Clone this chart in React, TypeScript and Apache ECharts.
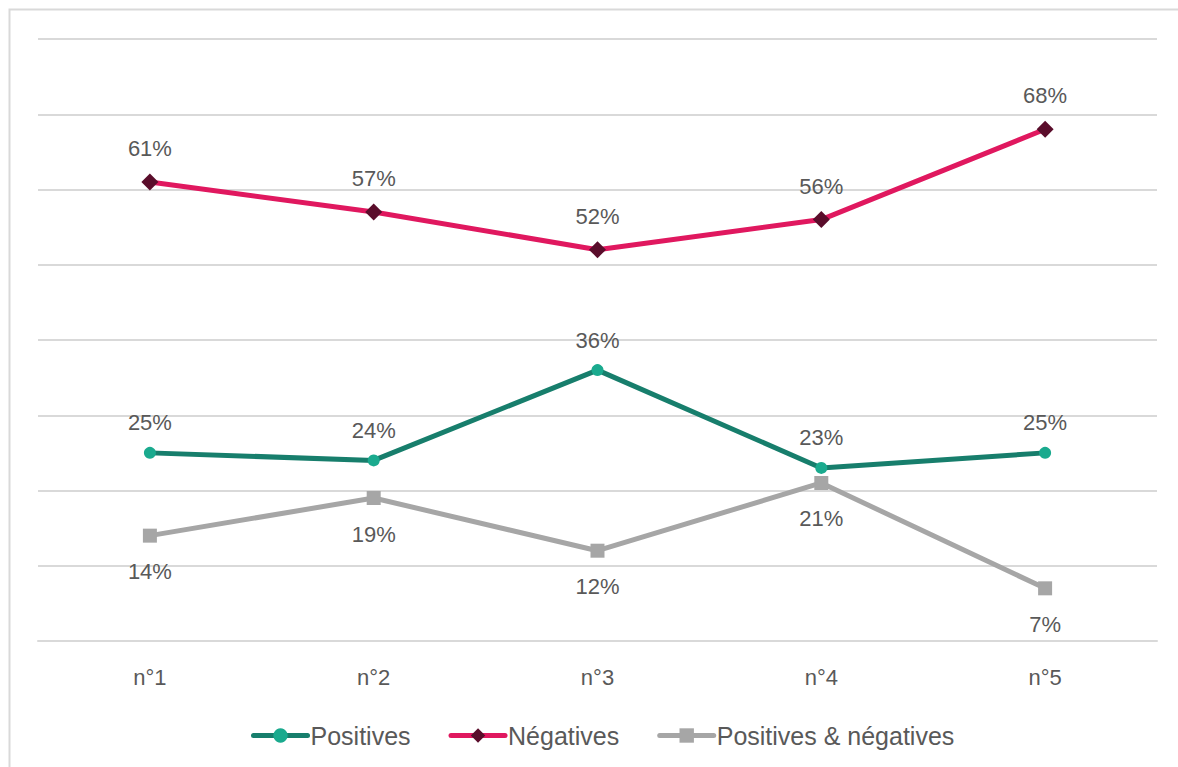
import React, { useEffect, useRef } from "react";
import * as echarts from "echarts";

const categories = ["n°1", "n°2", "n°3", "n°4", "n°5"];
const positives = [25, 24, 36, 23, 25];
const negatives = [61, 57, 52, 56, 68];
const mixed = [14, 19, 12, 21, 7];
const seriesNames = ["Positives", "Négatives", "Positives & négatives"];

const FONT = "'Liberation Sans', Arial, sans-serif";
const TEXT = "#595959";

export default function App() {
  const ref = useRef<HTMLDivElement>(null);
  useEffect(() => {
    if (!ref.current) return;
    const chart = echarts.init(ref.current, null, { renderer: "svg" });
    const label = (pos: string, dist: number) => ({
      show: true,
      position: pos,
      distance: dist,
      formatter: "{c}%",
      fontSize: 22,
      color: TEXT,
      fontFamily: FONT,
    });
    chart.setOption({
      animation: false,
      backgroundColor: "#ffffff",
      textStyle: { fontFamily: FONT },
      graphic: [
        {
          type: "rect",
          shape: { x: 9.5, y: 9.5, width: 1300, height: 900 },
          style: { fill: "none", stroke: "#d9d9d9", lineWidth: 2 },
          silent: true,
        },
      ],
      grid: { left: 38, right: 21, top: 39, bottom: 126 },
      legend: {
        left: 246,
        top: 718,
        itemWidth: 54,
        itemHeight: 18,
        itemGap: 38,
        lineStyle: { width: 5, cap: "round" },
        textStyle: { fontSize: 25, color: TEXT, fontFamily: FONT, padding: [0, 0, 0, -2] },
        data: seriesNames,
      },
      xAxis: {
        type: "category",
        data: categories,
        boundaryGap: true,
        axisLine: { show: true, lineStyle: { color: "#d9d9d9", width: 2 } },
        axisTick: { show: false },
        axisLabel: { fontSize: 22, color: TEXT, fontFamily: FONT, margin: 25 },
      },
      yAxis: {
        type: "value",
        min: 0,
        max: 80,
        interval: 10,
        axisLabel: { show: false },
        axisLine: { show: false },
        axisTick: { show: false },
        splitLine: { lineStyle: { color: "#d9d9d9", width: 2 } },
      },
      series: [
        {
          name: seriesNames[0],
          type: "line",
          data: positives,
          symbol: "circle",
          symbolSize: 12,
          lineStyle: { color: "#177e6c", width: 5 },
          itemStyle: { color: "#1aaa8e" },
          label: label("top", 13),
          z: 3,
        },
        {
          name: seriesNames[1],
          type: "line",
          data: negatives,
          symbol: "diamond",
          symbolSize: [17, 17],
          lineStyle: { color: "#e0185f", width: 5 },
          itemStyle: { color: "#5a0d2b" },
          label: label("top", 14),
          z: 4,
        },
        {
          name: seriesNames[2],
          type: "line",
          data: mixed,
          symbol: "rect",
          symbolSize: 14,
          lineStyle: { color: "#a6a6a6", width: 5 },
          itemStyle: { color: "#a6a6a6" },
          label: label("bottom", 18),
          z: 2,
        },
      ],
    });
    return () => chart.dispose();
  }, []);
  return (
    <div
      ref={ref}
      style={{ position: "absolute", left: 0, top: 0, width: 1178, height: 767 }}
    />
  );
}
